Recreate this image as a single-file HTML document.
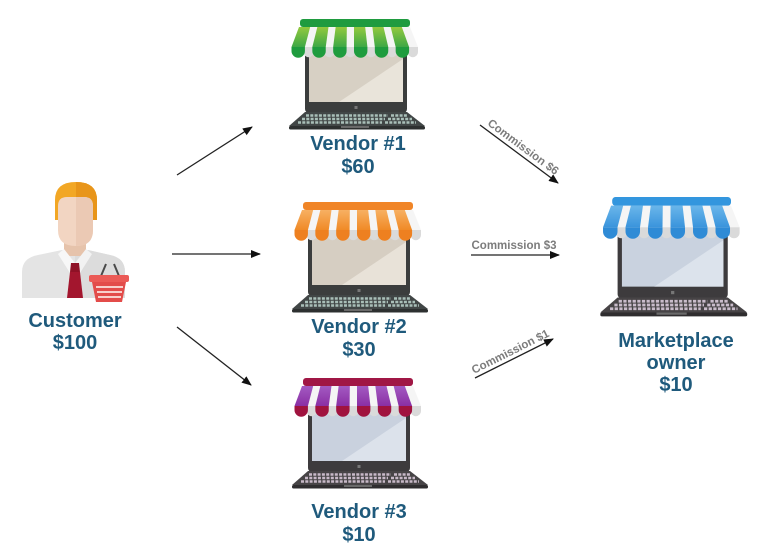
<!DOCTYPE html>
<html>
<head>
<meta charset="utf-8">
<style>
  html, body { margin: 0; padding: 0; background: #ffffff; }
  body { width: 770px; height: 544px; overflow: hidden; }
  svg { display: block; }
  .lbl { font-family: "Liberation Sans", Arial, sans-serif; font-weight: bold; font-size: 20px; fill: #1f5a7c; text-anchor: middle; }
  .com { font-family: "Liberation Sans", Arial, sans-serif; font-weight: bold; font-size: 11.5px; fill: #7c7c7c; text-anchor: middle; }
</style>
</head>
<body>
<svg width="770" height="544" viewBox="0 0 770 544" xmlns="http://www.w3.org/2000/svg">
  <defs>
    <marker id="ah" markerWidth="10" markerHeight="10" refX="9" refY="5" orient="auto" markerUnits="userSpaceOnUse">
      <path d="M0,1 L10,5 L0,9 z" fill="#111"/>
    </marker>
    <linearGradient id="gG" x1="0" y1="0" x2="0" y2="1"><stop offset="0" stop-color="#93c93e"/><stop offset="1" stop-color="#3ea846"/></linearGradient>
    <linearGradient id="gO" x1="0" y1="0" x2="0" y2="1"><stop offset="0" stop-color="#f7b062"/><stop offset="1" stop-color="#f08a26"/></linearGradient>
    <linearGradient id="gP" x1="0" y1="0" x2="0" y2="1"><stop offset="0" stop-color="#a35ac2"/><stop offset="1" stop-color="#8a2fa4"/></linearGradient>
    <linearGradient id="gB" x1="0" y1="0" x2="0" y2="1"><stop offset="0" stop-color="#6ab6ea"/><stop offset="1" stop-color="#3a94dc"/></linearGradient>
  </defs>

  <!-- ============ Arrows ============ -->
  <g stroke="#222" stroke-width="1.3" fill="none">
    <line x1="177" y1="175" x2="252" y2="127" marker-end="url(#ah)"/>
    <line x1="172" y1="254" x2="260" y2="254" marker-end="url(#ah)"/>
    <line x1="177" y1="327" x2="251" y2="385" marker-end="url(#ah)"/>
    <line x1="480" y1="125" x2="558" y2="183" marker-end="url(#ah)"/>
    <line x1="471" y1="255" x2="559" y2="255" marker-end="url(#ah)"/>
    <line x1="475" y1="378" x2="553" y2="339" marker-end="url(#ah)"/>
  </g>
  <text class="com" x="521" y="150" transform="rotate(36.6 521 150)">Commission $6</text>
  <text class="com" x="514" y="249">Commission $3</text>
  <text class="com" x="512" y="355" transform="rotate(-26.6 512 355)">Commission $1</text>

  <!-- ============ Customer ============ -->
  <g>
    <path d="M22 298 V272 Q22 258 38 255 L62 250 H88 L110 255 Q125 258 125 272 V298 Z" fill="#e4e4e4"/>
    <path d="M75 250 H88 L110 255 Q125 258 125 272 V298 H75 Z" fill="#dcdcdc"/>
    <rect x="64" y="234" width="22" height="22" fill="#e6c3ab"/>
    <polygon points="58,254 64,249 75,263 70,273" fill="#f7f7f7"/>
    <polygon points="92,254 86,249 75,263 80,273" fill="#f2f2f2"/>
    <polygon points="71,263 79,263 80,272 70,272" fill="#8f1126"/>
    <polygon points="70,272 80,272 83,298 67,298" fill="#a3162e"/>
    <path d="M55 220 V200 Q55 182 76 182 Q97 182 97 200 V220 Z" fill="#f2a725"/>
    <path d="M76 182 Q97 182 97 200 V220 H76 Z" fill="#e8951a"/>
    <path d="M58 206 Q58 197 67 197 H84 Q93 197 93 206 V230 Q93 246 76 246 Q58 246 58 230 Z" fill="#f2d5c2"/>
    <path d="M76 197 H84 Q93 197 93 206 V230 Q93 246 76 246 Z" fill="#ebc9b4"/>
    <path d="M101 276 L106 264 M119 276 L114 264" stroke="#4a4a4a" stroke-width="2" fill="none"/>
    <polygon points="92,282 126,282 122,302 96,302" fill="#e34c4a"/>
    <rect x="89" y="275" width="40" height="7" rx="2" fill="#eb5a56"/>
    <g stroke="#f8d0cc" stroke-width="2">
      <line x1="96" y1="287" x2="123" y2="287"/>
      <line x1="97" y1="292" x2="122" y2="292"/>
      <line x1="98" y1="297" x2="121" y2="297"/>
    </g>
  </g>
  <text class="lbl" x="75" y="327">Customer</text>
  <text class="lbl" x="75" y="349">$100</text>

  <!-- ============ Vendor 1 (green) ============ -->
  <g transform="translate(285,19)">
    <rect x="20" y="30" width="102" height="64" rx="4" fill="#3b3d3d"/>
    <rect x="24" y="34" width="94" height="49" fill="#d7d0c4"/>
    <polygon points="54,83 118,40 118,83" fill="#e9e4da"/>
    <rect x="69.5" y="87" width="3" height="3" fill="#777"/>
    <polygon points="20,93 122,93 140,107 4,107" fill="#414646"/>
    <g stroke="#a9bfb8" stroke-width="2.6" stroke-dasharray="3 1.3">
      <line x1="21" y1="96.5" x2="103" y2="96.5"/><line x1="106" y1="96.5" x2="123" y2="96.5"/>
      <line x1="17" y1="100" x2="100" y2="100"/><line x1="103" y1="100" x2="127" y2="100"/>
      <line x1="13" y1="103.5" x2="97" y2="103.5"/><line x1="100" y1="103.5" x2="131" y2="103.5"/>
    </g>
    <rect x="4" y="107" width="136" height="3.5" rx="1.5" fill="#2d3030"/>
    <rect x="56" y="107" width="28" height="2" fill="#6a6a6a"/>
    <polygon points="15,8 125,8 133,28 8,28" fill="#f5f5f5"/>
    <g fill="#dadada">
      <path d="M18.42 28 h10.42 v5 a5.21 5.21 0 0 1 -10.42 0 z"/>
      <path d="M39.25 28 h10.42 v5 a5.21 5.21 0 0 1 -10.42 0 z"/>
      <path d="M60.08 28 h10.42 v5 a5.21 5.21 0 0 1 -10.42 0 z"/>
      <path d="M80.92 28 h10.42 v5 a5.21 5.21 0 0 1 -10.42 0 z"/>
      <path d="M101.75 28 h10.42 v5 a5.21 5.21 0 0 1 -10.42 0 z"/>
      <path d="M122.58 28 h10.42 v5 a5.21 5.21 0 0 1 -10.42 0 z"/>
    </g>
    <g fill="url(#gG)">
      <polygon points="14,8 25.17,8 19.92,28 6.5,28"/>
      <polygon points="32.33,8 43.5,8 40.75,28 27.33,28"/>
      <polygon points="50.67,8 61.83,8 61.58,28 48.17,28"/>
      <polygon points="69,8 80.17,8 82.42,28 69,28"/>
      <polygon points="87.33,8 98.5,8 103.25,28 89.83,28"/>
      <polygon points="105.67,8 116.83,8 124.08,28 110.67,28"/>
    </g>
    <g fill="#1f9c3e">
      <path d="M6.5 28 h13.42 v4 a6.71 6.71 0 0 1 -13.42 0 z"/>
      <path d="M27.33 28 h13.42 v4 a6.71 6.71 0 0 1 -13.42 0 z"/>
      <path d="M48.17 28 h13.42 v4 a6.71 6.71 0 0 1 -13.42 0 z"/>
      <path d="M69 28 h13.42 v4 a6.71 6.71 0 0 1 -13.42 0 z"/>
      <path d="M89.83 28 h13.42 v4 a6.71 6.71 0 0 1 -13.42 0 z"/>
      <path d="M110.67 28 h13.42 v4 a6.71 6.71 0 0 1 -13.42 0 z"/>
    </g>
    <rect x="15" y="0" width="110" height="8" rx="3" fill="#1f9b3f"/>
  </g>
  <text class="lbl" x="358" y="150">Vendor #1</text>
  <text class="lbl" x="358" y="173">$60</text>

  <!-- ============ Vendor 2 (orange) ============ -->
  <g transform="translate(288,202)">
    <rect x="20" y="30" width="102" height="64" rx="4" fill="#3b3d3d"/>
    <rect x="24" y="34" width="94" height="49" fill="#d6cec2"/>
    <polygon points="54,83 118,40 118,83" fill="#e8e2d8"/>
    <rect x="69.5" y="87" width="3" height="3" fill="#777"/>
    <polygon points="20,93 122,93 140,107 4,107" fill="#414646"/>
    <g stroke="#a9bfb8" stroke-width="2.6" stroke-dasharray="3 1.3">
      <line x1="21" y1="96.5" x2="103" y2="96.5"/><line x1="106" y1="96.5" x2="123" y2="96.5"/>
      <line x1="17" y1="100" x2="100" y2="100"/><line x1="103" y1="100" x2="127" y2="100"/>
      <line x1="13" y1="103.5" x2="97" y2="103.5"/><line x1="100" y1="103.5" x2="131" y2="103.5"/>
    </g>
    <rect x="4" y="107" width="136" height="3.5" rx="1.5" fill="#2d3030"/>
    <rect x="56" y="107" width="28" height="2" fill="#6a6a6a"/>
    <polygon points="15,8 125,8 133,28 8,28" fill="#f5f5f5"/>
    <g fill="#dadada">
      <path d="M18.42 28 h10.42 v5 a5.21 5.21 0 0 1 -10.42 0 z"/>
      <path d="M39.25 28 h10.42 v5 a5.21 5.21 0 0 1 -10.42 0 z"/>
      <path d="M60.08 28 h10.42 v5 a5.21 5.21 0 0 1 -10.42 0 z"/>
      <path d="M80.92 28 h10.42 v5 a5.21 5.21 0 0 1 -10.42 0 z"/>
      <path d="M101.75 28 h10.42 v5 a5.21 5.21 0 0 1 -10.42 0 z"/>
      <path d="M122.58 28 h10.42 v5 a5.21 5.21 0 0 1 -10.42 0 z"/>
    </g>
    <g fill="url(#gO)">
      <polygon points="14,8 25.17,8 19.92,28 6.5,28"/>
      <polygon points="32.33,8 43.5,8 40.75,28 27.33,28"/>
      <polygon points="50.67,8 61.83,8 61.58,28 48.17,28"/>
      <polygon points="69,8 80.17,8 82.42,28 69,28"/>
      <polygon points="87.33,8 98.5,8 103.25,28 89.83,28"/>
      <polygon points="105.67,8 116.83,8 124.08,28 110.67,28"/>
    </g>
    <g fill="#ee8020">
      <path d="M6.5 28 h13.42 v4 a6.71 6.71 0 0 1 -13.42 0 z"/>
      <path d="M27.33 28 h13.42 v4 a6.71 6.71 0 0 1 -13.42 0 z"/>
      <path d="M48.17 28 h13.42 v4 a6.71 6.71 0 0 1 -13.42 0 z"/>
      <path d="M69 28 h13.42 v4 a6.71 6.71 0 0 1 -13.42 0 z"/>
      <path d="M89.83 28 h13.42 v4 a6.71 6.71 0 0 1 -13.42 0 z"/>
      <path d="M110.67 28 h13.42 v4 a6.71 6.71 0 0 1 -13.42 0 z"/>
    </g>
    <rect x="15" y="0" width="110" height="8" rx="3" fill="#f08527"/>
  </g>
  <text class="lbl" x="359" y="333">Vendor #2</text>
  <text class="lbl" x="359" y="356">$30</text>

  <!-- ============ Vendor 3 (purple) ============ -->
  <g transform="translate(288,378)">
    <rect x="20" y="30" width="102" height="64" rx="4" fill="#3d3b3d"/>
    <rect x="24" y="34" width="94" height="49" fill="#c9d1de"/>
    <polygon points="54,83 118,40 118,83" fill="#dce2eb"/>
    <rect x="69.5" y="87" width="3" height="3" fill="#777"/>
    <polygon points="20,93 122,93 140,107 4,107" fill="#474446"/>
    <g stroke="#c8b9c8" stroke-width="2.6" stroke-dasharray="3 1.3">
      <line x1="21" y1="96.5" x2="103" y2="96.5"/><line x1="106" y1="96.5" x2="123" y2="96.5"/>
      <line x1="17" y1="100" x2="100" y2="100"/><line x1="103" y1="100" x2="127" y2="100"/>
      <line x1="13" y1="103.5" x2="97" y2="103.5"/><line x1="100" y1="103.5" x2="131" y2="103.5"/>
    </g>
    <rect x="4" y="107" width="136" height="3.5" rx="1.5" fill="#2f2d2f"/>
    <rect x="56" y="107" width="28" height="2" fill="#6a6a6a"/>
    <polygon points="15,8 125,8 133,28 8,28" fill="#f5f5f5"/>
    <g fill="#dadada">
      <path d="M18.42 28 h10.42 v5 a5.21 5.21 0 0 1 -10.42 0 z"/>
      <path d="M39.25 28 h10.42 v5 a5.21 5.21 0 0 1 -10.42 0 z"/>
      <path d="M60.08 28 h10.42 v5 a5.21 5.21 0 0 1 -10.42 0 z"/>
      <path d="M80.92 28 h10.42 v5 a5.21 5.21 0 0 1 -10.42 0 z"/>
      <path d="M101.75 28 h10.42 v5 a5.21 5.21 0 0 1 -10.42 0 z"/>
      <path d="M122.58 28 h10.42 v5 a5.21 5.21 0 0 1 -10.42 0 z"/>
    </g>
    <g fill="url(#gP)">
      <polygon points="14,8 25.17,8 19.92,28 6.5,28"/>
      <polygon points="32.33,8 43.5,8 40.75,28 27.33,28"/>
      <polygon points="50.67,8 61.83,8 61.58,28 48.17,28"/>
      <polygon points="69,8 80.17,8 82.42,28 69,28"/>
      <polygon points="87.33,8 98.5,8 103.25,28 89.83,28"/>
      <polygon points="105.67,8 116.83,8 124.08,28 110.67,28"/>
    </g>
    <g fill="#a0133f">
      <path d="M6.5 28 h13.42 v4 a6.71 6.71 0 0 1 -13.42 0 z"/>
      <path d="M27.33 28 h13.42 v4 a6.71 6.71 0 0 1 -13.42 0 z"/>
      <path d="M48.17 28 h13.42 v4 a6.71 6.71 0 0 1 -13.42 0 z"/>
      <path d="M69 28 h13.42 v4 a6.71 6.71 0 0 1 -13.42 0 z"/>
      <path d="M89.83 28 h13.42 v4 a6.71 6.71 0 0 1 -13.42 0 z"/>
      <path d="M110.67 28 h13.42 v4 a6.71 6.71 0 0 1 -13.42 0 z"/>
    </g>
    <rect x="15" y="0" width="110" height="8" rx="3" fill="#a01745"/>
  </g>
  <text class="lbl" x="359" y="518">Vendor #3</text>
  <text class="lbl" x="359" y="541">$10</text>

  <!-- ============ Marketplace (blue) ============ -->
  <g transform="translate(596,197) scale(1.08)">
    <rect x="20" y="30" width="102" height="64" rx="4" fill="#3d3b3d"/>
    <rect x="24" y="34" width="94" height="49" fill="#c9d2df"/>
    <polygon points="54,83 118,40 118,83" fill="#dce3ec"/>
    <rect x="69.5" y="87" width="3" height="3" fill="#777"/>
    <polygon points="20,93 122,93 140,107 4,107" fill="#474446"/>
    <g stroke="#c9bccb" stroke-width="2.6" stroke-dasharray="3 1.3">
      <line x1="21" y1="96.5" x2="103" y2="96.5"/><line x1="106" y1="96.5" x2="123" y2="96.5"/>
      <line x1="17" y1="100" x2="100" y2="100"/><line x1="103" y1="100" x2="127" y2="100"/>
      <line x1="13" y1="103.5" x2="97" y2="103.5"/><line x1="100" y1="103.5" x2="131" y2="103.5"/>
    </g>
    <rect x="4" y="107" width="136" height="3.5" rx="1.5" fill="#2f2d2f"/>
    <rect x="56" y="107" width="28" height="2" fill="#6a6a6a"/>
    <polygon points="15,8 125,8 133,28 8,28" fill="#f5f5f5"/>
    <g fill="#dadada">
      <path d="M18.42 28 h10.42 v5 a5.21 5.21 0 0 1 -10.42 0 z"/>
      <path d="M39.25 28 h10.42 v5 a5.21 5.21 0 0 1 -10.42 0 z"/>
      <path d="M60.08 28 h10.42 v5 a5.21 5.21 0 0 1 -10.42 0 z"/>
      <path d="M80.92 28 h10.42 v5 a5.21 5.21 0 0 1 -10.42 0 z"/>
      <path d="M101.75 28 h10.42 v5 a5.21 5.21 0 0 1 -10.42 0 z"/>
      <path d="M122.58 28 h10.42 v5 a5.21 5.21 0 0 1 -10.42 0 z"/>
    </g>
    <g fill="url(#gB)">
      <polygon points="14,8 25.17,8 19.92,28 6.5,28"/>
      <polygon points="32.33,8 43.5,8 40.75,28 27.33,28"/>
      <polygon points="50.67,8 61.83,8 61.58,28 48.17,28"/>
      <polygon points="69,8 80.17,8 82.42,28 69,28"/>
      <polygon points="87.33,8 98.5,8 103.25,28 89.83,28"/>
      <polygon points="105.67,8 116.83,8 124.08,28 110.67,28"/>
    </g>
    <g fill="#2f8bd6">
      <path d="M6.5 28 h13.42 v4 a6.71 6.71 0 0 1 -13.42 0 z"/>
      <path d="M27.33 28 h13.42 v4 a6.71 6.71 0 0 1 -13.42 0 z"/>
      <path d="M48.17 28 h13.42 v4 a6.71 6.71 0 0 1 -13.42 0 z"/>
      <path d="M69 28 h13.42 v4 a6.71 6.71 0 0 1 -13.42 0 z"/>
      <path d="M89.83 28 h13.42 v4 a6.71 6.71 0 0 1 -13.42 0 z"/>
      <path d="M110.67 28 h13.42 v4 a6.71 6.71 0 0 1 -13.42 0 z"/>
    </g>
    <rect x="15" y="0" width="110" height="8" rx="3" fill="#3396de"/>
  </g>
  <text class="lbl" x="676" y="347">Marketplace</text>
  <text class="lbl" x="676" y="369">owner</text>
  <text class="lbl" x="676" y="391">$10</text>
</svg>
</body>
</html>
